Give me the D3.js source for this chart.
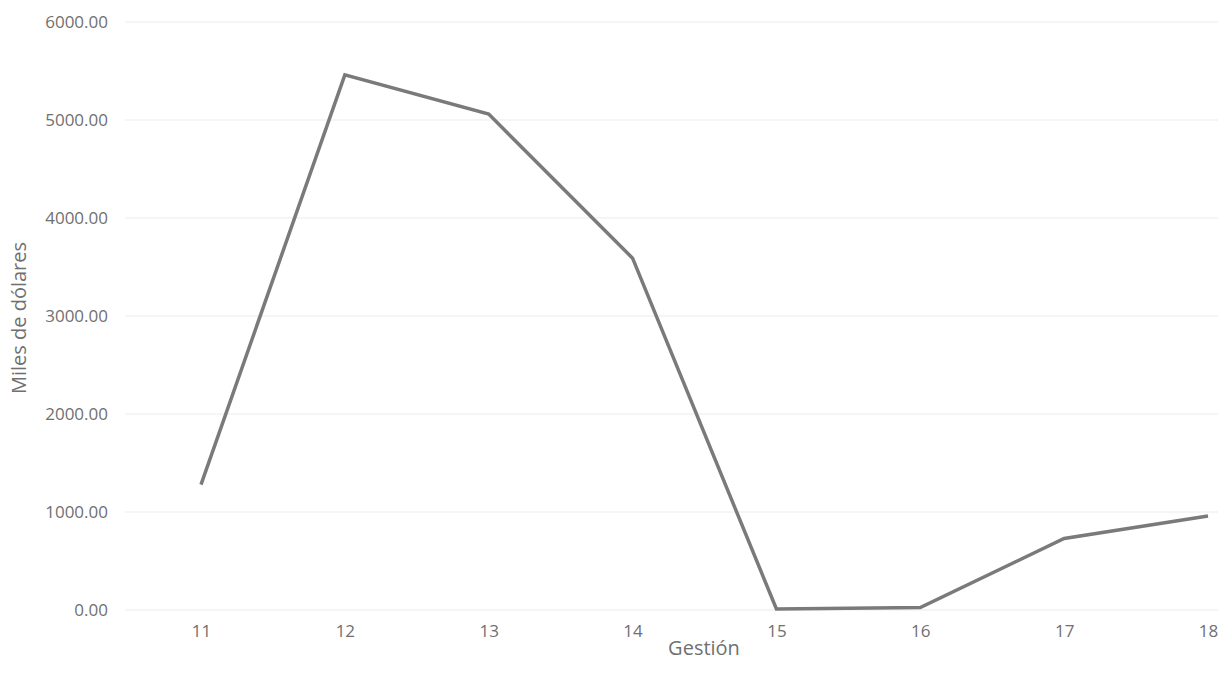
<!DOCTYPE html>
<html>
<head>
<meta charset="utf-8">
<script src="https://cdn.jsdelivr.net/npm/d3@7"></script>
<style>
  html, body { margin: 0; padding: 0; background: #fff; }
  svg text { font-family: "Open Sans", "DejaVu Sans", sans-serif; fill: #707070; }
</style>
</head>
<body>
<svg id="chart" width="1224" height="683"></svg>
<script>
// Gestión (year) and amount in thousands of dollars
const years = ["11", "12", "13", "14", "15", "16", "17", "18"];
const values = [1280, 5460, 5060, 3590, 10, 25, 730, 960];
const yTicks = [0, 1000, 2000, 3000, 4000, 5000, 6000];

const svg = d3.select("#chart");

const x = d3.scalePoint().domain(years).range([201, 1208]);
const y = d3.scaleLinear().domain([0, 6000]).range([610, 22]);

// horizontal gridlines
svg.append("g")
  .selectAll("line")
  .data(yTicks)
  .join("line")
  .attr("x1", 125).attr("x2", 1218)
  .attr("y1", d => y(d)).attr("y2", d => y(d))
  .attr("stroke", "#ebebeb")
  .attr("stroke-width", 1);

// y axis labels
const yAxis = svg.append("g")
  .attr("transform", "translate(108,0)")
  .call(d3.axisLeft(y).tickValues(yTicks).tickFormat(d3.format(".2f")).tickSize(0).tickPadding(0));
yAxis.select(".domain").remove();
yAxis.selectAll("text").attr("font-size", 17).attr("fill", "#707070").attr("font-family", "'Open Sans', sans-serif");

// x axis labels
const xAxis = svg.append("g")
  .attr("transform", "translate(0,625)")
  .call(d3.axisBottom(x).tickSize(0).tickPadding(0));
xAxis.select(".domain").remove();
xAxis.selectAll("text").attr("font-size", 17).attr("fill", "#707070").attr("font-family", "'Open Sans', sans-serif");

// series line
const line = d3.line()
  .x((d, i) => x(years[i]))
  .y(d => y(d));

svg.append("path")
  .datum(values)
  .attr("d", line)
  .attr("fill", "none")
  .attr("stroke", "#7a7a7a")
  .attr("stroke-width", 3.5)
  .attr("stroke-linejoin", "miter");

// axis titles
svg.append("text")
  .attr("x", 704).attr("y", 655)
  .attr("text-anchor", "middle")
  .attr("font-size", 20)
  .text("Gestión");

svg.append("text")
  .attr("transform", "translate(26,318) rotate(-90)")
  .attr("text-anchor", "middle")
  .attr("font-size", 20)
  .text("Miles de dólares");
</script>
</body>
</html>
